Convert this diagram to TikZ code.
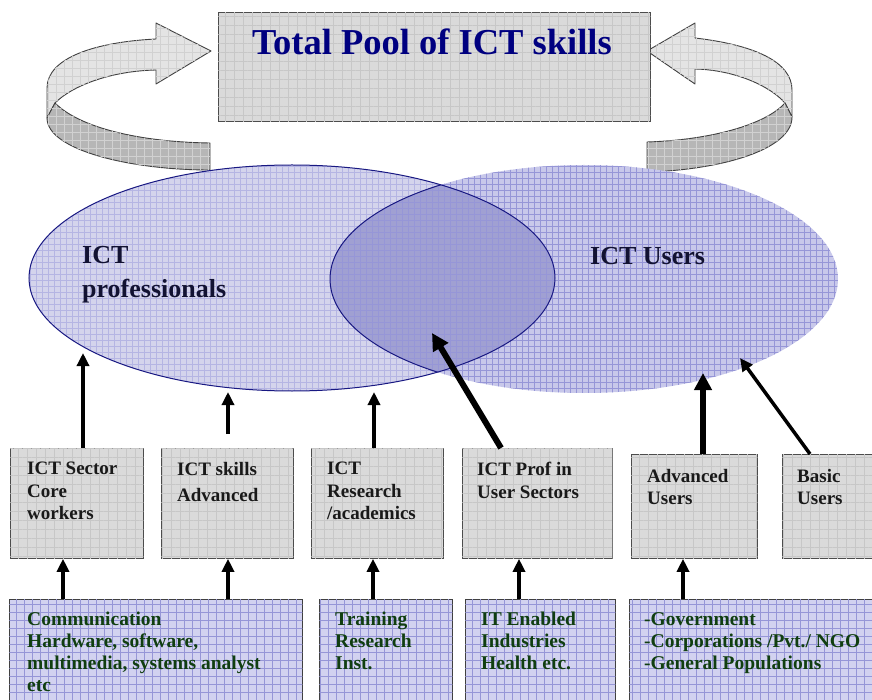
\documentclass[tikz,border=0pt]{standalone}
\usepackage{fontspec}
\setmainfont{Liberation Serif}
\usetikzlibrary{arrows.meta,patterns.meta}

\definecolor{titleblue}{RGB}{0,0,128}
\definecolor{labelgreen}{RGB}{16,62,16}
\definecolor{labelnavy}{RGB}{18,18,50}
\definecolor{boxgray}{RGB}{218,218,218}
\definecolor{boxlav}{RGB}{210,210,240}
\definecolor{ellleft}{RGB}{212,212,236}
\definecolor{ellright}{RGB}{200,200,234}
\definecolor{ellboth}{RGB}{160,160,210}
\definecolor{ellline}{RGB}{24,24,130}
\definecolor{gridblue}{RGB}{150,150,215}
\definecolor{bandlight}{RGB}{228,228,228}
\definecolor{banddark}{RGB}{182,182,182}

\tikzset{
  midbox/.style={draw=black!70, fill=boxgray, line width=0.8pt, anchor=north west, inner sep=0pt,
    postaction={pattern={Hatch[distance=9pt, angle=0, line width=0.5pt]}, pattern color=black!22}},
  lowbox/.style={draw=black!75, fill=boxlav, line width=0.8pt, anchor=north west, inner sep=0pt,
    postaction={pattern={Hatch[distance=8pt, angle=0, line width=0.6pt]}, pattern color=gridblue}},
  boxtext/.style={anchor=north west, inner sep=0pt, align=left, text=black!90,
    font=\bfseries\fontsize{19}{22.5}\selectfont},
  lowtext/.style={boxtext, text=labelgreen, font=\bfseries\fontsize{19.5}{22}\selectfont},
  elltext/.style={anchor=north west, inner sep=0pt, align=left, text=labelnavy,
    font=\bfseries\fontsize{26}{34}\selectfont},
  ellgrid/.style={pattern={Hatch[distance=6pt, angle=0, line width=0.4pt]}, pattern color=gridblue!70},
  thinarrow/.style={-{Triangle[width=12pt,length=13pt]}, line width=3.5pt},
  thickarrow/.style={-{Triangle[width=17pt,length=17pt]}, line width=6pt},
  band/.style={draw=black!75, line width=0.9pt, line join=round,
    postaction={pattern={Hatch[distance=8pt, angle=0, line width=0.4pt]}, pattern color=black!18}},
}

\begin{document}
\begin{tikzpicture}[x=1pt,y=-1pt]
  \useasboundingbox (0,0) rectangle (872,700);

  % curved arrows round the pool
  \filldraw[band, fill=bandlight] (156,39) .. controls (95,42) and (47,58) .. (47,88) -- (47,118) -- (55,103)
     .. controls (72,86) and (110,71) .. (156,70) -- (156,84) -- (211,51) -- (156,23) -- cycle;
  \filldraw[band, fill=banddark] (55,103) .. controls (80,128) and (140,142) .. (210,143) -- (210,170)
     .. controls (130,170) and (47,150) .. (47,118) -- cycle;
  \filldraw[band, fill=bandlight] (695,38) .. controls (755,45) and (792,62) .. (792,90) -- (792,117) -- (785,103)
     .. controls (770,86) and (735,70) .. (695,69) -- (695,84) -- (647,51) -- (695,23) -- cycle;
  \filldraw[band, fill=banddark] (785,103) .. controls (765,125) and (710,140) .. (647,142) -- (647,172)
     .. controls (720,170) and (792,150) .. (792,117) -- cycle;

  % top box
  \node[midbox, minimum width=432pt, minimum height=109pt] (pool) at (218,12) {};
  \node[anchor=base, inner sep=0pt, text=titleblue, font=\bfseries\fontsize{36.5}{40}\selectfont]
    (pool-t) at (432,55) {Total Pool of ICT skills};

  % the two ellipses
  \fill[ellleft] (292,278) ellipse [x radius=263pt, y radius=113pt];
  \fill[ellright] (584,279) ellipse [x radius=254pt, y radius=114pt];
  \begin{scope}
    \clip (292,278) ellipse [x radius=263pt, y radius=113pt];
    \fill[ellboth] (584,279) ellipse [x radius=254pt, y radius=114pt];
  \end{scope}
  \fill[ellgrid] (292,278) ellipse [x radius=263pt, y radius=113pt];
  \fill[ellgrid, pattern color=gridblue] (584,279) ellipse [x radius=254pt, y radius=114pt];
  \begin{scope}
    \clip (292,278) ellipse [x radius=263pt, y radius=113pt];
    \draw[ellline, line width=1pt] (584,279) ellipse [x radius=254pt, y radius=114pt];
  \end{scope}
  \draw[ellline, line width=1pt] (292,278) ellipse [x radius=263pt, y radius=113pt];
  \node[elltext] (prof-t) at (82,246) {ICT\\professionals};
  \node[elltext] (users-t) at (590,247) {ICT Users};

  % middle row
  \node[midbox, minimum width=133pt, minimum height=110pt] (core) at (10,448) {};
  \node[midbox, minimum width=132pt, minimum height=110pt] (adv) at (161,448) {};
  \node[midbox, minimum width=132pt, minimum height=110pt] (res) at (311,448) {};
  \node[midbox, minimum width=150pt, minimum height=110pt] (puser) at (462,448) {};
  \node[midbox, minimum width=126pt, minimum height=104pt] (advu) at (631,454) {};
  \node[midbox, minimum width=100pt, minimum height=104pt] (basu) at (782,454) {};
  \node[boxtext] (core-t) at (27,462) {ICT Sector\\Core\\workers};
  \node[boxtext, font=\bfseries\fontsize{19}{26}\selectfont] (adv-t) at (177,462) {ICT skills\\Advanced};
  \node[boxtext] (res-t) at (327,462) {ICT\\Research\\/academics};
  \node[boxtext] (puser-t) at (477,462) {ICT Prof in\\User Sectors};
  \node[boxtext] (advu-t) at (647,469) {Advanced\\Users};
  \node[boxtext] (basu-t) at (797,469) {Basic\\Users};

  % bottom row
  \node[lowbox, minimum width=293pt, minimum height=110pt] (comm) at (9,599) {};
  \node[lowbox, minimum width=133pt, minimum height=110pt] (train) at (319,599) {};
  \node[lowbox, minimum width=150pt, minimum height=110pt] (itind) at (465,599) {};
  \node[lowbox, minimum width=260pt, minimum height=110pt] (gov) at (629,599) {};
  \node[lowtext] (comm-t) at (27,612) {Communication\\Hardware, software,\\multimedia, systems analyst\\etc};
  \node[lowtext] (train-t) at (335,612) {Training\\Research\\Inst.};
  \node[lowtext] (itind-t) at (481,612) {IT Enabled\\Industries\\Health etc.};
  \node[lowtext] (gov-t) at (644,612) {-Government\\-Corporations /Pvt./ NGO\\-General Populations};

  % arrow ends
  \coordinate (e-core) at (83,353);
  \coordinate (s-adv) at (228,434);
  \coordinate (e-adv) at (228,392);
  \coordinate (e-res) at (374,392);
  \coordinate (s-puser) at (501,448);
  \coordinate (e-puser) at (432,333);
  \coordinate (e-advu) at (703,373);
  \coordinate (s-basu) at (810,454);
  \coordinate (e-basu) at (740,358);
  \coordinate (x1) at (63,0);
  \coordinate (x2) at (228,0);
  \coordinate (x3) at (373,0);
  \coordinate (x4) at (519,0);
  \coordinate (x5) at (683,0);

  % arrows into the ellipses
  \draw[thinarrow] (core.north -| e-core) -- (e-core);
  \draw[thinarrow] (s-adv) -- (e-adv);
  \draw[thinarrow] (res.north -| e-res) -- (e-res);
  \draw[thickarrow] (s-puser) -- (e-puser);
  \draw[thickarrow] (advu.north -| e-advu) -- (e-advu);
  \draw[thinarrow] (s-basu) -- (e-basu);

  % arrows from the bottom row
  \draw[thinarrow] (comm.north -| x1) -- (core.south -| x1);
  \draw[thinarrow] (comm.north -| x2) -- (adv.south -| x2);
  \draw[thinarrow] (train.north -| x3) -- (res.south -| x3);
  \draw[thinarrow] (itind.north -| x4) -- (puser.south -| x4);
  \draw[thinarrow] (gov.north -| x5) -- (advu.south -| x5);
\end{tikzpicture}
\end{document}
